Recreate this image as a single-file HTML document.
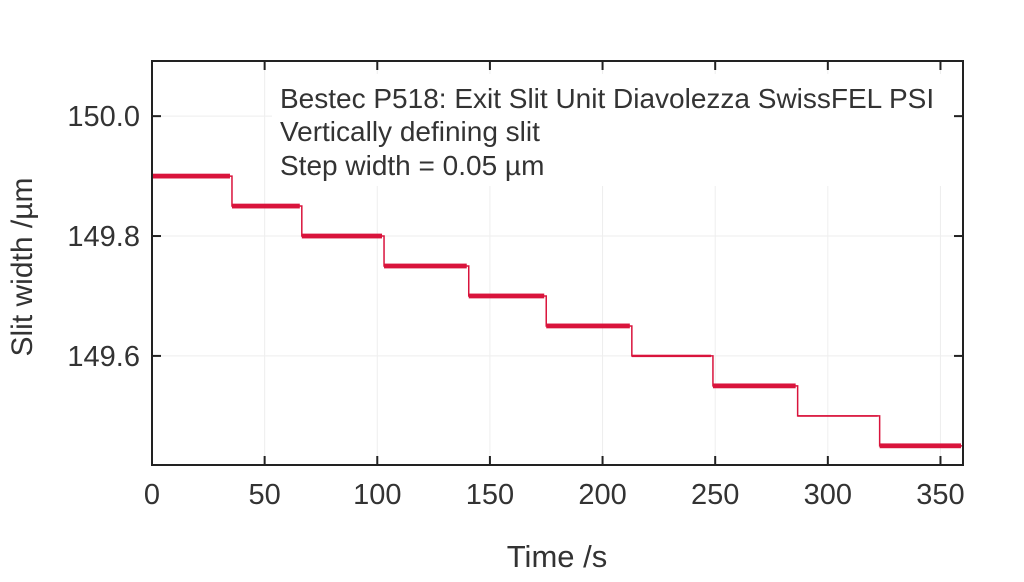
<!DOCTYPE html>
<html><head><meta charset="utf-8"><style>
html,body{margin:0;padding:0;background:#fff;}
svg text{font-family:"Liberation Sans",sans-serif;}
</style></head><body>
<svg id="chart" width="1024" height="577" viewBox="0 0 1024 577" xmlns="http://www.w3.org/2000/svg">
<g id="grid"></g>
<g id="series"></g>
<rect x="272" y="74" width="685" height="112" fill="#fff"/>
<text x="280" y="108" font-size="28" fill="#333">Bestec P518: Exit Slit Unit Diavolezza SwissFEL PSI</text>
<text x="280" y="141" font-size="28" fill="#333">Vertically defining slit</text>
<text x="280" y="175" font-size="28" fill="#333">Step width = 0.05 µm</text>
<g id="axes"></g>
<text x="557" y="567" font-size="31" text-anchor="middle" fill="#333">Time /s</text>
<text transform="translate(32,267) rotate(-90)" font-size="30" text-anchor="middle" fill="#333">Slit width /µm</text>
</svg>
<script>
const stepStarts=[0,35.5,66.5,103,140.6,175,213,249,286.6,323];
const stepLevels=[149.90,149.85,149.80,149.75,149.70,149.65,149.60,149.55,149.50,149.45];
const stepNoise=[0.004,0.004,0.004,0.004,0.004,0.004,0.002,0.004,0.001,0.004];
const xTicks=[0,50,100,150,200,250,300,350];
const yTicks=[149.6,149.8,150.0];
const yTickLabels=["149.6","149.8","150.0"];
const xMin=0,xMax=360,yMin=149.418,yMax=150.092;
const L=152,R=963,T=61,B=465;
const NS="http://www.w3.org/2000/svg";
const X=v=>L+(v-xMin)/(xMax-xMin)*(R-L);
const Y=v=>B-(v-yMin)/(yMax-yMin)*(B-T);
function mk(tag,at,parent){const e=document.createElementNS(NS,tag);for(const k in at)e.setAttribute(k,at[k]);parent.appendChild(e);return e;}
const grid=document.getElementById('grid'),axes=document.getElementById('axes'),series=document.getElementById('series');
xTicks.forEach(t=>{
 const g=mk('line',{x1:X(t),x2:X(t),y1:T,y2:B,stroke:'#eee','stroke-width':1},grid);
 
 
 const a=mk('line',{x1:X(t),x2:X(t),y1:B,y2:B-9,stroke:'#222','stroke-width':2},axes);
 
 
 const b=mk('line',{x1:X(t),x2:X(t),y1:T,y2:T+9,stroke:'#222','stroke-width':2},axes);
 
 
 const tx=mk('text',{x:X(t),y:504,'font-size':29,'text-anchor':'middle',fill:'#333'},axes);
 tx.textContent=t;
 
 
});
yTicks.forEach((t,i)=>{
 const g=mk('line',{x1:L,x2:R,y1:Y(t),y2:Y(t),stroke:'#eee','stroke-width':1},grid);
 
 
 const a=mk('line',{x1:L,x2:L+9,y1:Y(t),y2:Y(t),stroke:'#222','stroke-width':2},axes);
 
 
 const b=mk('line',{x1:R,x2:R-9,y1:Y(t),y2:Y(t),stroke:'#222','stroke-width':2},axes);
 
 
 const tx=mk('text',{x:140,y:Y(t)+10,'font-size':29,'text-anchor':'end',fill:'#333'},axes);
 tx.textContent=yTickLabels[i];
 
 
});
const frame=mk('rect',{x:L,y:T,width:R-L,height:B-T,fill:'none',stroke:'#222','stroke-width':2},axes);


let d='';
stepStarts.forEach((s,i)=>{
 const e=i<stepStarts.length-1?stepStarts[i+1]:xMax;
 d+=(i===0?'M':'L')+X(s)+','+Y(stepLevels[i])+' L'+X(e)+','+Y(stepLevels[i])+' ';
});
const line=mk('path',{d:d,fill:'none',stroke:'#d9143c','stroke-width':1.5},series);


stepStarts.forEach((s,i)=>{
 const e=i<stepStarts.length-1?stepStarts[i+1]:xMax;
 const h=Math.max(Y(stepLevels[i]-stepNoise[i])-Y(stepLevels[i]+stepNoise[i]),1.5);
 const r=mk('rect',{x:X(s),y:Y(stepLevels[i]+stepNoise[i]),width:X(e)-X(s)-2,height:h,fill:'#d9143c'},series);
 
 
});
</script>
</body></html>
